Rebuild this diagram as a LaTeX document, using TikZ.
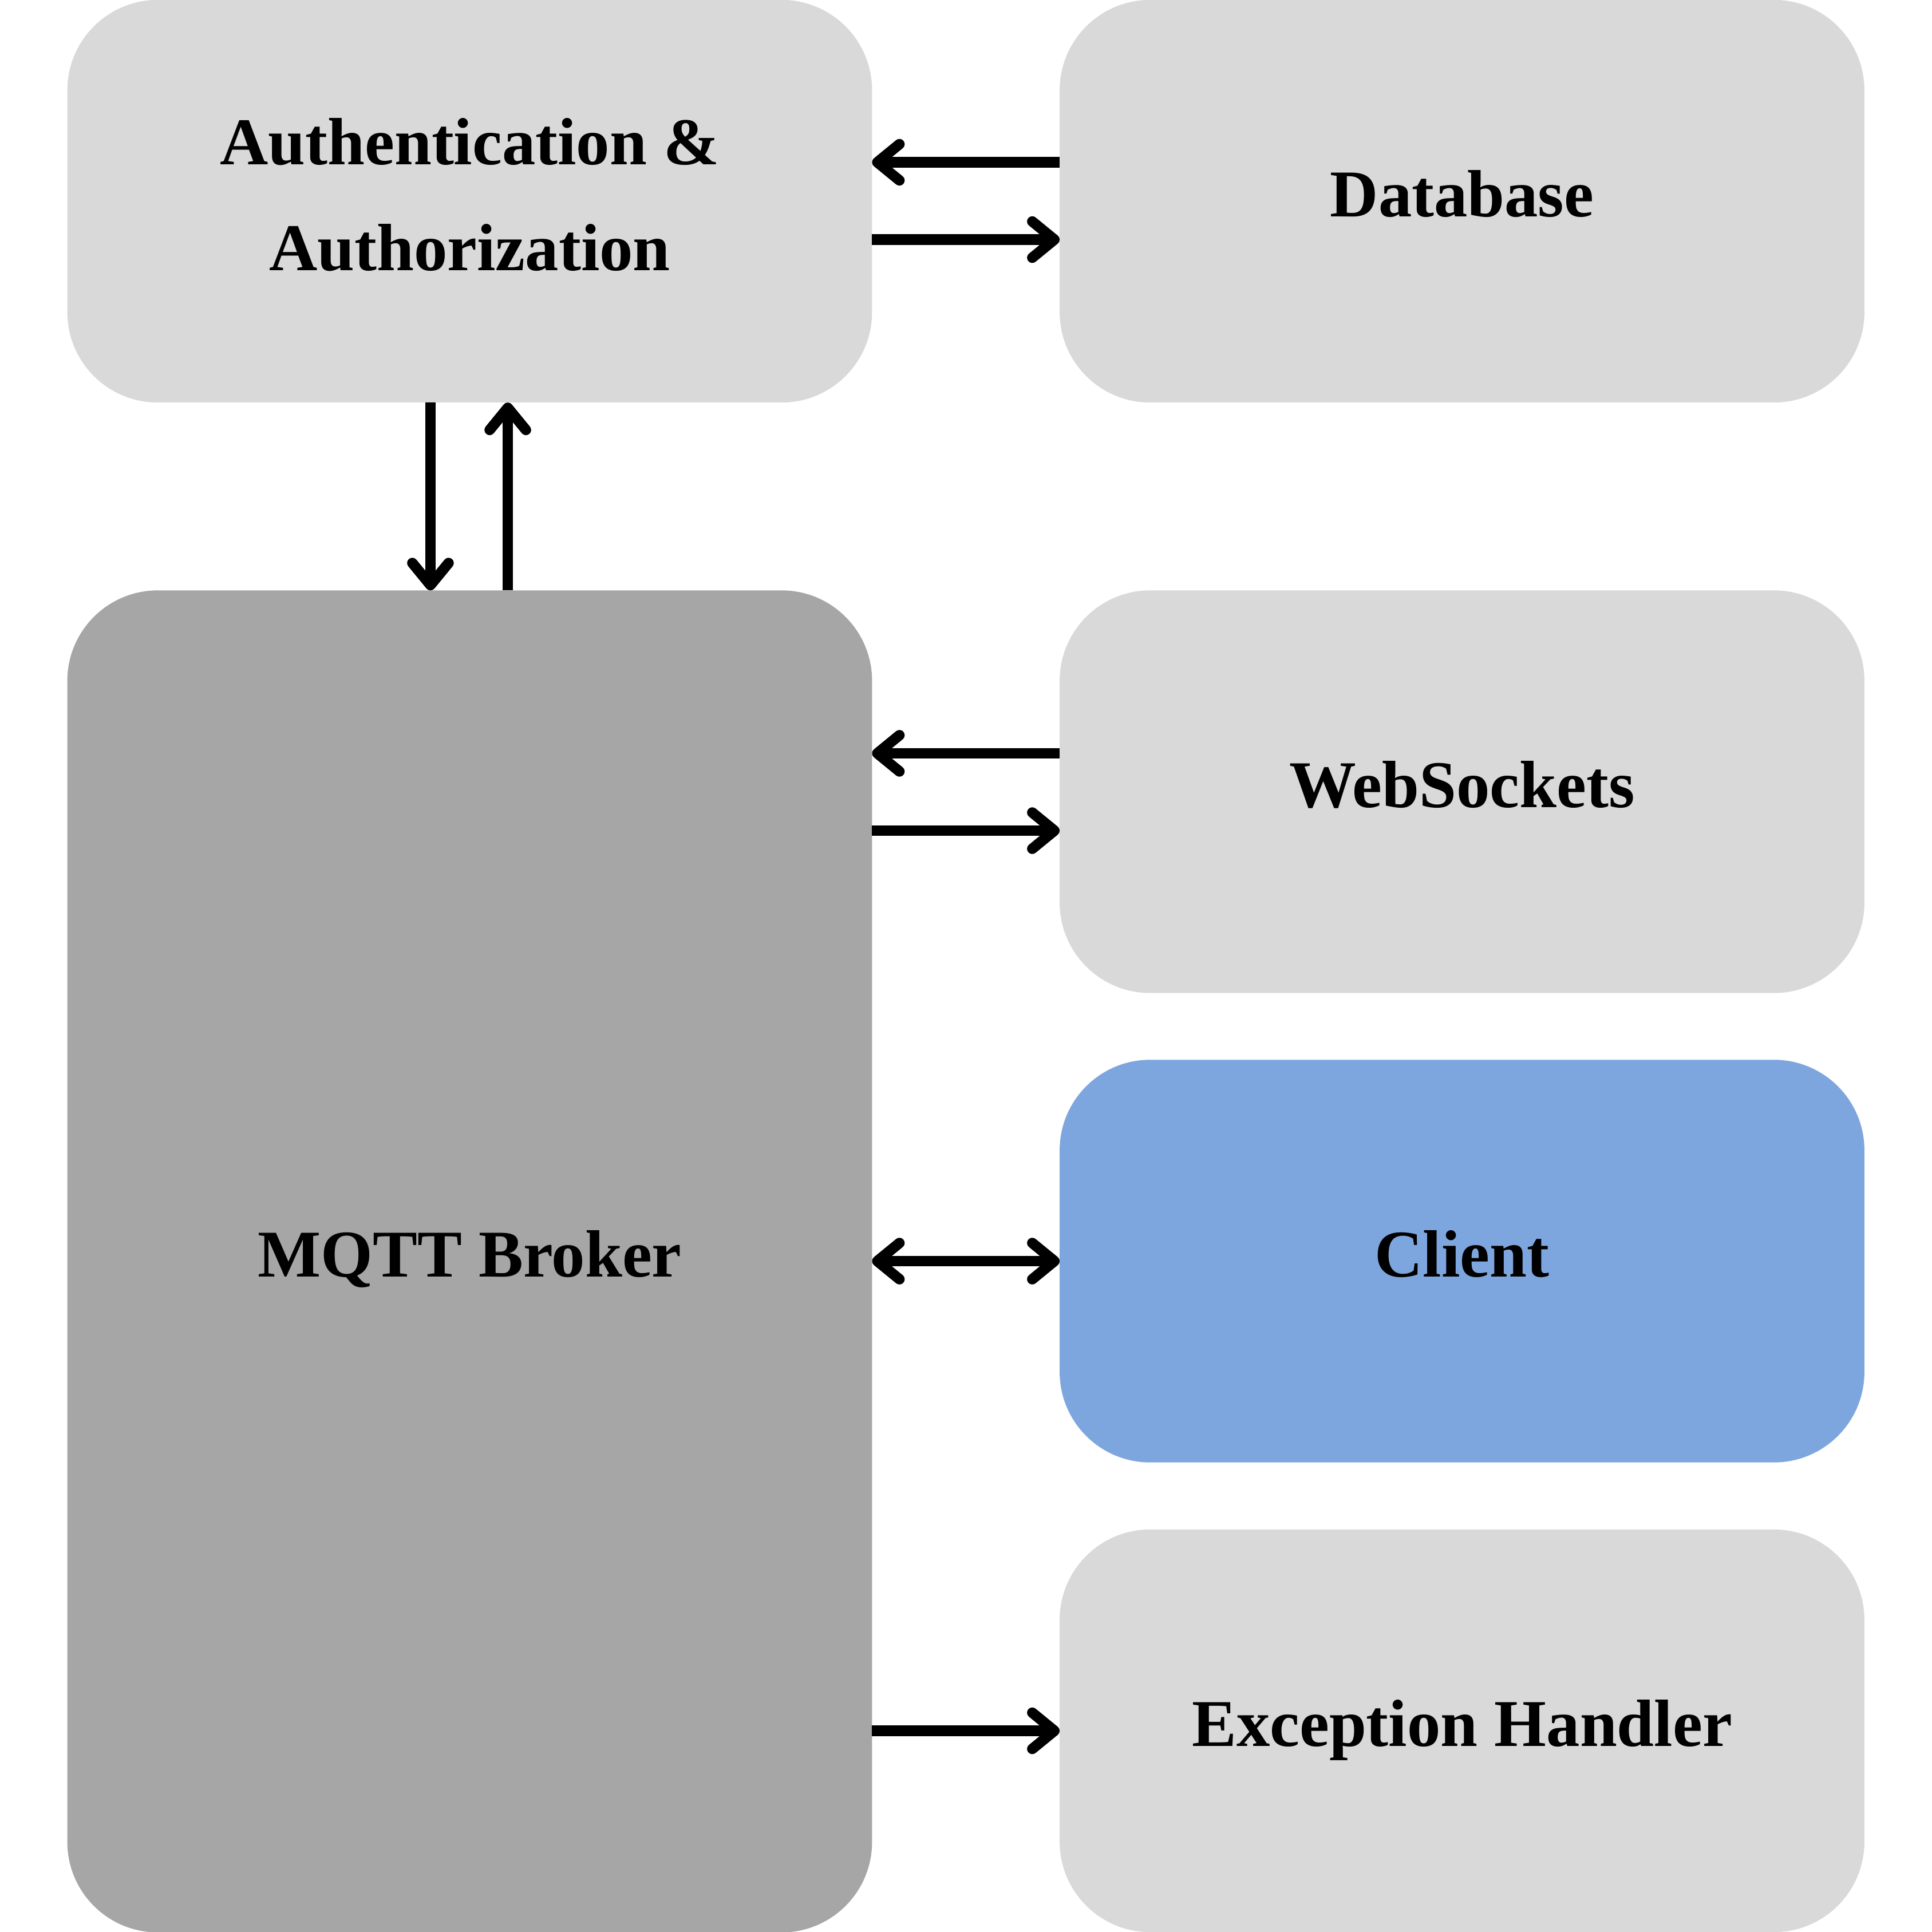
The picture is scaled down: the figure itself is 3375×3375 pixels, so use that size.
\documentclass[tikz,border=0pt]{standalone}
\usepackage{fontspec}
\setmainfont{Liberation Serif}
\usetikzlibrary{arrows.meta}
\definecolor{boxgray}{HTML}{D9D9D9}
\definecolor{brokergray}{HTML}{A6A6A6}
\definecolor{clientblue}{HTML}{7EA6DE}
\tikzset{
  box/.style={rectangle, rounded corners=1.58cm, inner sep=0pt, outer sep=0pt,
    minimum width=14.05cm, minimum height=7.03cm, fill=boxgray, draw=none,
    align=center, text height=21.5pt, text depth=6pt,
    font=\fontsize{33.2pt}{52.6pt}\selectfont\bfseries},
  arr/.style={line width=5.2pt, -{Straight Barb[length=11pt, width=18pt, round]}},
  darr/.style={line width=5.2pt, {Straight Barb[length=11pt, width=18pt, round]}-{Straight Barb[length=11pt, width=18pt, round]}}
}
\begin{document}
\begin{tikzpicture}[x=0.01cm, y=-0.01cm]
\useasboundingbox (0,0) rectangle (3375,3375);
\node[box, text height=75pt, text depth=6.4pt] (auth) at (820.5,351.5) {Authentication \&\\Authorization};
\node[box] (db) at (2554,351.5) {Database};
\node[box, fill=brokergray, minimum height=23.43cm] (broker) at (820.5,2203.5) {MQTT Broker};
\node[box] (ws) at (2554,1383) {WebSockets};
\node[box, fill=clientblue] (client) at (2554,2203) {Client};
\node[box] (exc) at (2554,3023.5) {Exception Handler};
% Auth <-> Database
\draw[arr] ([yshift=0.68cm]db.west) -- ([yshift=0.68cm]db.west -| auth.east);
\draw[arr] ([yshift=-0.67cm]auth.east) -- ([yshift=-0.67cm]auth.east -| db.west);
% Auth <-> Broker
\draw[arr] ([xshift=-0.685cm]auth.south) -- ([xshift=-0.685cm]auth.south |- broker.north);
\draw[arr] ([xshift=0.665cm]auth.south |- broker.north) -- ([xshift=0.665cm]auth.south);
% Broker <-> WebSockets
\draw[arr] ([yshift=0.67cm]ws.west) -- ([yshift=0.67cm]ws.west -| broker.east);
\draw[arr] ([yshift=-0.68cm]ws.west -| broker.east) -- ([yshift=-0.68cm]ws.west);
% Broker <-> Client
\draw[darr] (client.west -| broker.east) -- (client.west);
% Broker -> Exception
\draw[arr] (exc.west -| broker.east) -- (exc.west);
\end{tikzpicture}
\end{document}
